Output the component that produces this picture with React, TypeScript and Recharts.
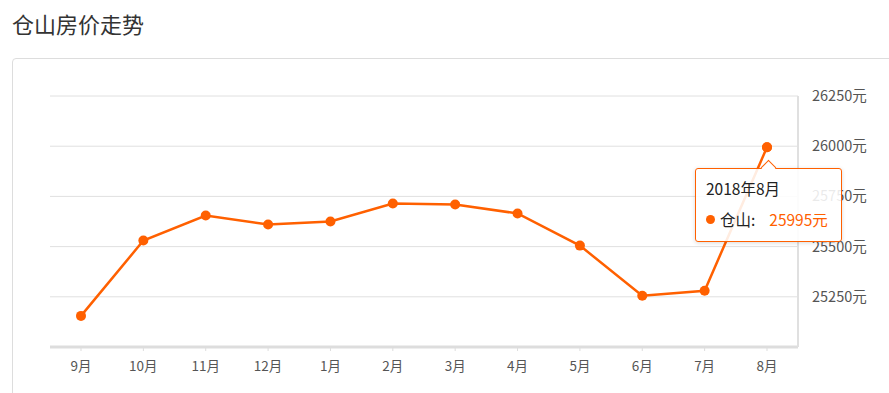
import React from "react";
import { LineChart, Line, XAxis, YAxis, CartesianGrid, Tooltip } from "recharts";

const months = ["9月", "10月", "11月", "12月", "1月", "2月", "3月", "4月", "5月", "6月", "7月", "8月"];
const fullMonths = [
  "2017年9月", "2017年10月", "2017年11月", "2017年12月", "2018年1月", "2018年2月",
  "2018年3月", "2018年4月", "2018年5月", "2018年6月", "2018年7月", "2018年8月",
];
const prices = [25155, 25530, 25655, 25610, 25625, 25715, 25710, 25665, 25505, 25255, 25280, 25995];
const yTicks = [25000, 25250, 25500, 25750, 26000, 26250];

const data = months.map((m, i) => ({ month: m, full: fullMonths[i], price: prices[i] }));

const ORANGE = "#ff6000";
const FONT = '"Noto Sans CJK SC", "Microsoft YaHei", sans-serif';

const TipBox = ({ active, payload }: any) => {
  if (!active || !payload || !payload.length) return null;
  const p = payload[0];
  return (
    <div style={{ position: "relative", fontFamily: FONT }}>
      <div
        style={{
          position: "absolute",
          left: 68,
          top: -6,
          width: 10,
          height: 10,
          background: "#fff",
          borderLeft: `1px solid ${ORANGE}`,
          borderTop: `1px solid ${ORANGE}`,
          transform: "rotate(45deg)",
        }}
      />
      <div
        style={{
          width: 147,
          height: 74,
          boxSizing: "border-box",
          border: `1px solid ${ORANGE}`,
          borderRadius: 3,
          background: "rgba(255,255,255,0.88)",
          boxShadow: "0 1px 4px rgba(0,0,0,0.15)",
          padding: "7px 10px",
          fontSize: 15.5,
          color: "#222",
        }}
      >
        <div style={{ lineHeight: "24px" }}>{p.payload.full}</div>
        <div style={{ lineHeight: "24px", marginTop: 7, display: "flex", alignItems: "center" }}>
          <span
            style={{ width: 9, height: 9, borderRadius: 5, background: ORANGE, display: "inline-block", marginRight: 5 }}
          />
          <span>仓山:</span>
          <span style={{ color: ORANGE, marginLeft: 14 }}>{p.value}元</span>
        </div>
      </div>
    </div>
  );
};

export default function App() {
  return (
    <div style={{ position: "absolute", left: 0, top: 0, width: 889, height: 393, background: "#fff", overflow: "hidden" }}>
      <div
        style={{
          position: "absolute",
          left: 12,
          top: 9,
          fontSize: 22,
          lineHeight: "28px",
          color: "#333",
          fontFamily: FONT,
        }}
      >
        仓山房价走势
      </div>
      <div
        style={{
          position: "absolute",
          left: 12,
          top: 58,
          width: 900,
          height: 360,
          border: "1px solid #ddd",
          borderRadius: 4,
        }}
      />
      <div style={{ position: "absolute", left: 0, top: 0 }}>
        <LineChart
          width={889}
          height={393}
          data={data}
          margin={{ top: 96, right: 0, bottom: 0, left: 50 }}
        >
          <CartesianGrid vertical={false} stroke="#e0e0e0" strokeWidth={1} />
          <XAxis
            dataKey="month"
            height={46}
            padding={{ left: 31, right: 31 }}
            stroke="#ddd"
            strokeWidth={3}
            tickSize={4}
            tickLine={{ stroke: "#ddd", strokeWidth: 1 }}
            tickMargin={10}
            tick={{ fill: "#555", fontSize: 13.5, fontFamily: FONT }}
            interval={0}
          />
          <YAxis
            orientation="right"
            width={91}
            domain={[25000, 26250]}
            ticks={yTicks}
            tickLine={false}
            stroke="#e0e0e0"
            strokeWidth={2}
            tickMargin={8}
            tick={(props: any) =>
              props.payload.value === 25000 ? (
                <g />
              ) : (
                <text
                  x={props.x}
                  y={props.y}
                  dy={5}
                  textAnchor="start"
                  fill="#555"
                  fontSize={14.5}
                  fontFamily={FONT}
                >
                  {props.payload.value}元
                </text>
              )
            }
          />
          <Tooltip
            active
            defaultIndex={11}
            cursor={false}
            position={{ x: 695, y: 168 }}
            allowEscapeViewBox={{ x: true, y: true }}
            wrapperStyle={{ outline: "none" }}
            content={<TipBox />}
          />
          <Line
            type="linear"
            dataKey="price"
            stroke={ORANGE}
            strokeWidth={2.5}
            dot={{ r: 5, fill: ORANGE, stroke: "none" }}
            activeDot={{ r: 5, fill: ORANGE, stroke: "none" }}
            isAnimationActive={false}
          />
        </LineChart>
      </div>
    </div>
  );
}
